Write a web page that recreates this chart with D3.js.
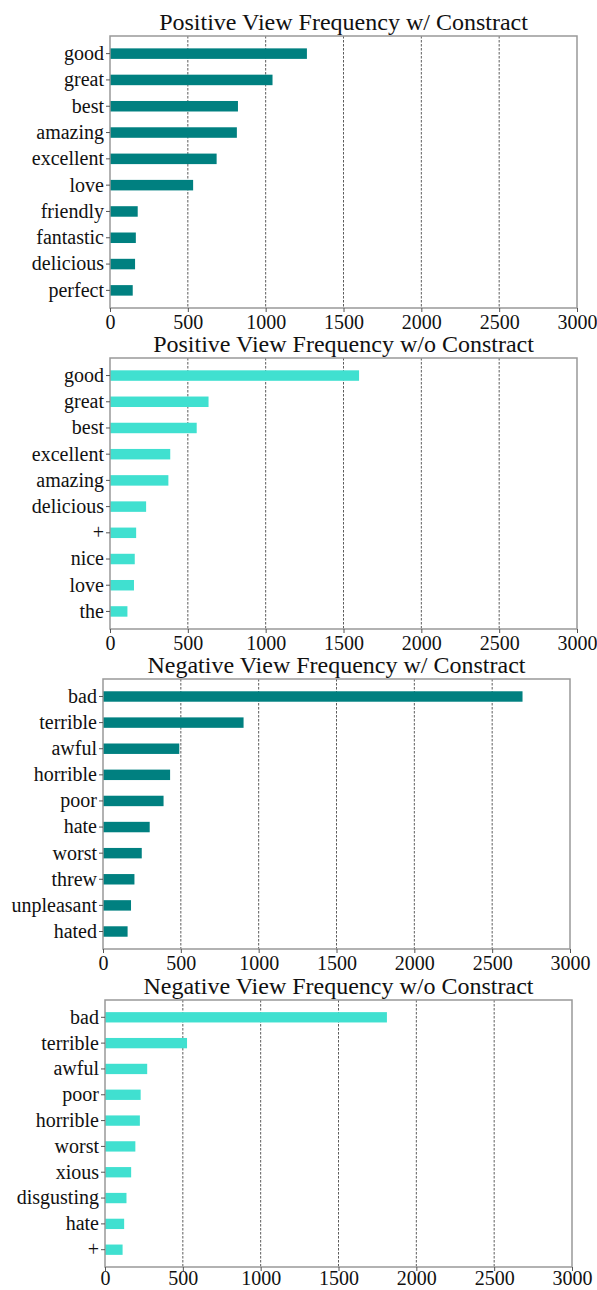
<!DOCTYPE html>
<html>
<head>
<meta charset="utf-8">
<script src="https://cdn.jsdelivr.net/npm/d3@7"></script>
<style>
  html, body { margin: 0; padding: 0; background: #fff; }
  svg { display: block; }
  svg text { font-family: "Liberation Serif", "Times New Roman", serif !important; fill: #111; }
</style>
</head>
<body>
<script>
// ---- data ----
const titles = [
  "Positive View Frequency w/ Constract",
  "Positive View Frequency w/o Constract",
  "Negative View Frequency w/ Constract",
  "Negative View Frequency w/o Constract"
];
const posWithWords = ["good","great","best","amazing","excellent","love","friendly","fantastic","delicious","perfect"];
const posWithValues = [1265, 1044, 822, 815, 685, 534, 178, 166, 161, 146];
const posWithoutWords = ["good","great","best","excellent","amazing","delicious","+","nice","love","the"];
const posWithoutValues = [1600, 633, 557, 387, 375, 232, 168, 159, 154, 112];
const negWithWords = ["bad","terrible","awful","horrible","poor","hate","worst","threw","unpleasant","hated"];
const negWithValues = [2695, 903, 490, 431, 389, 300, 249, 202, 180, 158];
const negWithoutWords = ["bad","terrible","awful","poor","horrible","worst","xious","disgusting","hate","+"];
const negWithoutValues = [1811, 527, 271, 229, 224, 195, 168, 138, 123, 113];
const xTicks = [0, 500, 1000, 1500, 2000, 2500, 3000];
const gridTicks = [500, 1000, 1500, 2000, 2500];

const panels = [
  { title: titles[0], words: posWithWords, values: posWithValues, color: "#008080", box: [110, 577, 36, 308], xpad: 3 },
  { title: titles[1], words: posWithoutWords, values: posWithoutValues, color: "#40E0D0", box: [110, 577, 358, 629], xpad: 3 },
  { title: titles[2], words: negWithWords, values: negWithValues, color: "#008080", box: [103, 570, 679, 949], xpad: 3 },
  { title: titles[3], words: negWithoutWords, values: negWithoutValues, color: "#40E0D0", box: [105, 572, 1000, 1267], xpad: 0 }
];

const FONT = '"Liberation Serif", "Times New Roman", serif';
const W = 597, H = 1290;
const svg = d3.select("body").append("svg").attr("width", W).attr("height", H);

panels.forEach(p => {
  const [x0, x1, y0, y1] = p.box;
  const x = d3.scaleLinear().domain([0, 3000]).range([x0, x1]);
  // matplotlib-like: categories at 0..9, bar height 0.4, limits with 5% margin
  const n = p.words.length;
  const pad = 0.2 + 0.05 * (n - 1 + 0.4);
  const yl = d3.scaleLinear().domain([-pad, n - 1 + pad]).range([y0, y1]);
  const g = svg.append("g");

  // grid
  g.selectAll("line.grid").data(gridTicks).join("line")
    .attr("class", "grid")
    .attr("x1", d => x(d)).attr("x2", d => x(d))
    .attr("y1", y0).attr("y2", y1)
    .attr("stroke", "#333").attr("stroke-width", 0.8)
    .attr("stroke-dasharray", "2.5,1.5");

  // bars
  g.selectAll("rect.bar").data(p.values).join("rect")
    .attr("class", "bar")
    .attr("x", x(0))
    .attr("y", (d, i) => yl(i - 0.2))
    .attr("width", d => x(d) - x(0))
    .attr("height", (d, i) => yl(i + 0.2) - yl(i - 0.2))
    .attr("fill", p.color);

  // frame
  g.append("rect").attr("x", x0).attr("y", y0).attr("width", x1 - x0).attr("height", y1 - y0)
    .attr("fill", "none").attr("stroke", "#999").attr("stroke-width", 1.5);

  // x axis
  const xa = g.append("g").attr("transform", `translate(0,${y1})`)
    .call(d3.axisBottom(x).tickValues(xTicks).tickFormat(d3.format("d")).tickSize(4).tickPadding(p.xpad));
  xa.attr("font-family", FONT).attr("font-size", 20);
  xa.select(".domain").remove();
  xa.selectAll("line").attr("stroke", "#555");
  xa.selectAll("text").attr("font-family", FONT).attr("font-size", 20).attr("fill", "#111");

  // y axis
  const yb = d3.scaleBand().domain(p.words).range([yl(-0.5), yl(n - 0.5)]);
  const ya = g.append("g").attr("transform", `translate(${x0},0)`)
    .call(d3.axisLeft(yb).tickSize(4).tickPadding(2));
  ya.attr("font-family", FONT).attr("font-size", 20);
  ya.select(".domain").remove();
  ya.selectAll("line").attr("stroke", "#555");
  ya.selectAll("text").attr("font-family", FONT).attr("font-size", 20).attr("fill", "#111");

  // title
  g.append("text").attr("x", (x0 + x1) / 2).attr("y", y0 - 6)
    .attr("text-anchor", "middle").attr("font-family", FONT).attr("font-size", 24).text(p.title);
});
</script>
</body>
</html>
